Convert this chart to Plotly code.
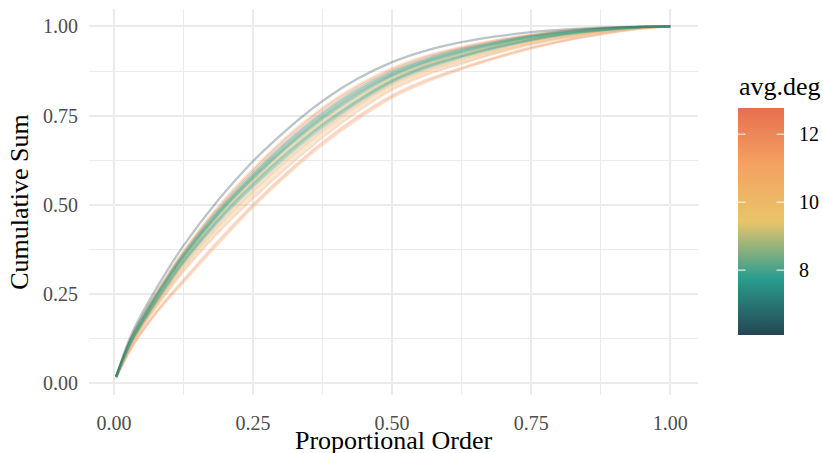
import plotly.graph_objects as go
from plotly.colors import sample_colorscale

# ---- data ----
prop_order = [0.004, 0.03125, 0.0625, 0.09375, 0.125, 0.1875, 0.25, 0.3125, 0.375,
              0.4375, 0.5, 0.5625, 0.625, 0.6875, 0.75, 0.8125, 0.875, 0.9375, 1.0]

avg_deg = [11.1, 12.0, 11.6, 11.3, 10.1, 10.9, 9.9, 10.4, 10.6, 12.3, 11.9,
           9.4, 7.8, 8.0, 7.6, 8.2, 8.4, 7.9, 8.1, 7.7, 6.2]

cum_sum = [
    [0.015, 0.097, 0.168, 0.228, 0.282, 0.390, 0.493, 0.585, 0.668, 0.739, 0.800, 0.845, 0.880, 0.911, 0.938, 0.960, 0.978, 0.992, 1.0],
    [0.015, 0.099, 0.171, 0.233, 0.289, 0.398, 0.500, 0.592, 0.675, 0.746, 0.806, 0.850, 0.884, 0.914, 0.941, 0.962, 0.979, 0.993, 1.0],
    [0.016, 0.106, 0.183, 0.250, 0.313, 0.422, 0.518, 0.607, 0.689, 0.761, 0.823, 0.865, 0.896, 0.925, 0.950, 0.968, 0.984, 0.995, 1.0],
    [0.016, 0.110, 0.190, 0.260, 0.325, 0.438, 0.535, 0.624, 0.705, 0.775, 0.835, 0.875, 0.905, 0.932, 0.955, 0.972, 0.986, 0.996, 1.0],
    [0.016, 0.112, 0.192, 0.263, 0.330, 0.444, 0.541, 0.630, 0.710, 0.780, 0.839, 0.879, 0.909, 0.935, 0.958, 0.974, 0.987, 0.996, 1.0],
    [0.017, 0.115, 0.197, 0.270, 0.339, 0.455, 0.553, 0.642, 0.721, 0.789, 0.846, 0.886, 0.916, 0.941, 0.962, 0.978, 0.990, 0.997, 1.0],
    [0.016, 0.108, 0.186, 0.255, 0.319, 0.430, 0.526, 0.615, 0.697, 0.768, 0.829, 0.870, 0.900, 0.928, 0.952, 0.970, 0.985, 0.995, 1.0],
    [0.017, 0.119, 0.203, 0.279, 0.349, 0.469, 0.568, 0.657, 0.736, 0.802, 0.857, 0.895, 0.924, 0.947, 0.967, 0.981, 0.991, 0.998, 1.0],
    [0.018, 0.128, 0.218, 0.297, 0.370, 0.495, 0.600, 0.694, 0.772, 0.835, 0.883, 0.918, 0.943, 0.962, 0.977, 0.988, 0.995, 0.999, 1.0],
    [0.018, 0.127, 0.216, 0.294, 0.366, 0.490, 0.595, 0.688, 0.767, 0.830, 0.879, 0.915, 0.940, 0.960, 0.976, 0.987, 0.994, 0.999, 1.0],
    [0.017, 0.124, 0.211, 0.288, 0.360, 0.482, 0.584, 0.676, 0.755, 0.820, 0.871, 0.908, 0.935, 0.956, 0.973, 0.986, 0.994, 0.998, 1.0],
    [0.017, 0.118, 0.202, 0.277, 0.347, 0.466, 0.565, 0.654, 0.732, 0.799, 0.854, 0.893, 0.922, 0.946, 0.966, 0.981, 0.991, 0.998, 1.0],
    [0.018, 0.125, 0.213, 0.290, 0.362, 0.485, 0.588, 0.680, 0.759, 0.824, 0.874, 0.910, 0.937, 0.957, 0.974, 0.986, 0.994, 0.998, 1.0],
    [0.017, 0.123, 0.210, 0.286, 0.358, 0.479, 0.581, 0.672, 0.751, 0.817, 0.868, 0.905, 0.933, 0.954, 0.972, 0.985, 0.993, 0.998, 1.0],
    [0.017, 0.121, 0.207, 0.283, 0.354, 0.474, 0.575, 0.665, 0.744, 0.810, 0.863, 0.901, 0.929, 0.951, 0.970, 0.983, 0.992, 0.998, 1.0],
    [0.017, 0.120, 0.205, 0.281, 0.352, 0.472, 0.572, 0.662, 0.740, 0.806, 0.860, 0.898, 0.926, 0.949, 0.968, 0.982, 0.992, 0.998, 1.0],
    [0.017, 0.117, 0.200, 0.274, 0.344, 0.461, 0.560, 0.649, 0.727, 0.794, 0.850, 0.890, 0.919, 0.944, 0.964, 0.980, 0.990, 0.997, 1.0],
    [0.017, 0.114, 0.195, 0.267, 0.336, 0.451, 0.549, 0.637, 0.716, 0.785, 0.843, 0.883, 0.913, 0.939, 0.961, 0.977, 0.989, 0.997, 1.0],
    [0.017, 0.122, 0.208, 0.285, 0.356, 0.477, 0.578, 0.668, 0.747, 0.813, 0.865, 0.903, 0.931, 0.953, 0.971, 0.984, 0.993, 0.998, 1.0],
    [0.017, 0.116, 0.198, 0.272, 0.341, 0.458, 0.557, 0.645, 0.724, 0.791, 0.848, 0.888, 0.917, 0.942, 0.963, 0.979, 0.990, 0.997, 1.0],
    [0.018, 0.135, 0.228, 0.310, 0.385, 0.513, 0.622, 0.713, 0.791, 0.853, 0.900, 0.933, 0.956, 0.972, 0.984, 0.992, 0.997, 0.999, 1.0],
]

axis_ticks = [0.0, 0.25, 0.5, 0.75, 1.0]
axis_ticklabels = ["0.00", "0.25", "0.50", "0.75", "1.00"]
cbar_ticks = [8, 10, 12]
cbar_ticklabels = ["8", "10", "12"]

# ---- style ----
palette = [[0.0, "#264653"], [0.25, "#2a9d8f"], [0.5, "#e9c46a"],
           [0.75, "#f4a261"], [1.0, "#e76f51"]]
cmin, cmax = 6.09, 12.78
alpha = 0.32
font_family = "Liberation Serif"
grid_col = "#EBEBEB"

# colour bar placement (paper units; plot area is 609 x 386 px)
cb_x0, cb_x1 = 1.0657, 1.1412
cb_y0, cb_y1 = 0.1554, 0.7443
cb_label_x = 1.1626


def to_rgba(col, a):
    col = col.strip()
    vals = col[col.index("(") + 1:-1].split(",")[:3]
    r, g, b = [int(round(float(v))) for v in vals]
    return f"rgba({r},{g},{b},{a})"


fig = go.Figure()
for deg, ys in zip(avg_deg, cum_sum):
    t = (deg - cmin) / (cmax - cmin)
    c = sample_colorscale(palette, [t])[0]
    fig.add_trace(go.Scatter(
        x=prop_order, y=ys, mode="lines",
        line=dict(color=to_rgba(c, alpha), width=2.3, shape="spline", smoothing=1.0),
        hoverinfo="skip", showlegend=False))

# colour bar carrier
fig.add_trace(go.Scatter(
    x=[None] * len(avg_deg), y=[None] * len(avg_deg), mode="markers",
    marker=dict(color=avg_deg, cmin=cmin, cmax=cmax, colorscale=palette,
                showscale=True, size=0,
                colorbar=dict(
                    tickvals=cbar_ticks, showticklabels=False, ticks="",
                    thickness=46, thicknessmode="pixels",
                    len=cb_y1 - cb_y0, lenmode="fraction",
                    x=cb_x0, xanchor="left", xpad=0,
                    y=(cb_y0 + cb_y1) / 2, yanchor="middle", ypad=0,
                    outlinewidth=0)),
    hoverinfo="skip", showlegend=False))

annotations = [
    dict(text="avg.deg", xref="paper", yref="paper",
         x=cb_x0 - 0.001, y=0.798, xanchor="left", yanchor="middle",
         showarrow=False, font=dict(family=font_family, size=26, color="#000000")),
    dict(text="Proportional Order", xref="paper", yref="paper",
         x=0.5, y=-0.119, xanchor="center", yanchor="middle",
         showarrow=False, font=dict(family=font_family, size=26, color="#000000")),
]
for v, lab in zip(cbar_ticks, cbar_ticklabels):
    yv = cb_y0 + (v - cmin) / (cmax - cmin) * (cb_y1 - cb_y0)
    annotations.append(dict(text=lab, xref="paper", yref="paper", x=cb_label_x, y=yv,
                            xanchor="left", yanchor="middle", showarrow=False,
                            font=dict(family=font_family, size=20, color="#000000")))
    # white tick marks across the colour bar
    for xe, dx in ((cb_x0, 9), (cb_x1, -9)):
        annotations.append(dict(text="", xref="paper", yref="paper", x=xe, y=yv,
                                showarrow=True, arrowhead=0, arrowwidth=1,
                                arrowcolor="#FFFFFF", ax=dx, ay=0,
                                standoff=0, startstandoff=0))

axis_common = dict(
    tickvals=axis_ticks, ticktext=axis_ticklabels,
    tickfont=dict(family=font_family, size=20, color="#4D4D4D"),
    showgrid=True, gridcolor=grid_col, gridwidth=2,
    zeroline=False, showline=False, ticks="",
    minor=dict(dtick=0.125, tick0=0, showgrid=True, gridcolor=grid_col, gridwidth=1),
)

fig.update_layout(
    width=823, height=453,
    margin=dict(l=89, r=125, t=9, b=58),
    paper_bgcolor="#FFFFFF", plot_bgcolor="#FFFFFF",
    font=dict(family=font_family),
    annotations=annotations,
    xaxis=dict(range=[-0.0448, 1.0498], automargin=False, ticklabelstandoff=14,
               **axis_common),
    yaxis=dict(range=[-0.034, 1.049], automargin=False, ticklabelstandoff=10,
               title=dict(text="Cumulative Sum", standoff=6,
                          font=dict(family=font_family, size=26, color="#000000")),
               **axis_common),
)

fig.write_html("out.html")
